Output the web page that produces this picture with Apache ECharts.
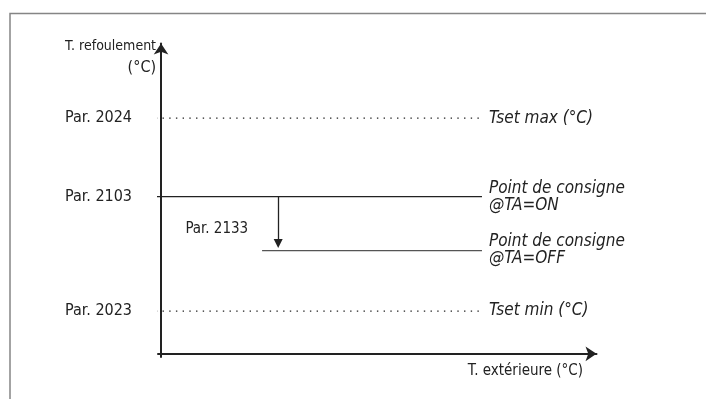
<!DOCTYPE html>
<html lang="fr">
<head>
    <meta charset="UTF-8">
    <title>Point de consigne</title>
    <style>
        html, body { margin: 0; padding: 0; background: #fff; }
    </style>
</head>
<body>
    <div id="main" style="width: 706px; height: 399px;"></div>
    <script src="https://cdn.jsdelivr.net/npm/echarts@6/dist/echarts.min.js"></script>
    <script>
        // niveaux (unites arbitraires du schema)
        var levelNames = ['Par. 2024', 'Par. 2103', 'Par. 2023'];
        var levelValues = [60, 40, 10.9];
        var rightLabels = ['Tset max (°C)', 'Point de consigne\n@TA=ON', 'Tset min (°C)'];
        var offValue = 26.3;
        var offLabel = 'Point de consigne\n@TA=OFF';
        var hystName = 'Par. 2133';
        var hystX = 26.9;
        // debut / fin des traits horizontaux (axe x)
        var dotStart = -1.2, onStart = -4.6, offStart = 23.2, lineEnd = 73.7;

        var font = '"DejaVu Sans", sans-serif';
        var narrow = 'condensed';   // font-stretch glisse dans la police canvas
        var ink = '#222';

        var myChart = echarts.init(document.getElementById('main'));

        var endLabel = function (text) {
            return {
                show: true,
                formatter: text,
                distance: 7,
                fontFamily: font,
                fontStyle: 'italic',
                fontWeight: narrow,
                fontSize: 17,
                lineHeight: 17,
                color: ink
            };
        };

        var dotted = { color: '#222', width: 1.2, type: [1.4, 5.3] };

        var option = {
            animation: false,
            graphic: [{
                type: 'rect',
                shape: { x: 10, y: 13.5, width: 760, height: 420 },
                style: { fill: 'none', stroke: '#858585', lineWidth: 1.5 },
                silent: true
            }],
            grid: { left: 158, right: 109.5, top: 43.5, bottom: 42 },
            xAxis: {
                type: 'value',
                min: -0.7,
                max: 100,
                name: 'T. extérieure (°C)',
                nameLocation: 'end',
                nameGap: -13.5,
                nameTextStyle: {
                    fontFamily: font, fontWeight: narrow, fontSize: 15, color: ink,
                    align: 'right', verticalAlign: 'top', padding: [10, 0, 0, 0]
                },
                axisLine: {
                    onZero: true,
                    symbol: ['none', 'arrow'],
                    symbolSize: [11, 11],
                    lineStyle: { color: ink, width: 2 }
                },
                axisTick: { show: false },
                axisLabel: { show: false },
                splitLine: { show: false }
            },
            yAxis: {
                type: 'value',
                min: -0.8,
                max: 79,
                name: '{a|T. refoulement}\n{b|(°C)}',
                nameLocation: 'end',
                nameGap: 8,
                nameTextStyle: {
                    color: ink,
                    align: 'right', verticalAlign: 'top', padding: [0, 5, 0, 0],
                    rich: {
                        a: { fontFamily: font, fontWeight: narrow, fontSize: 14, lineHeight: 21, color: ink },
                        b: { fontFamily: font, fontWeight: narrow, fontSize: 16, lineHeight: 23, color: ink }
                    }
                },
                axisLine: {
                    onZero: true,
                    symbol: ['none', 'arrow'],
                    symbolSize: [11, 11],
                    lineStyle: { color: ink, width: 2 }
                },
                axisTick: { show: false },
                axisLabel: {
                    customValues: levelValues,
                    formatter: function (v) {
                        return levelNames[levelValues.indexOf(v)] || '';
                    },
                    margin: 26,
                    fontFamily: font,
                    fontWeight: narrow,
                    fontSize: 16,
                    color: ink
                },
                splitLine: { show: false }
            },
            series: [
                {
                    type: 'line', symbol: 'none', clip: false,
                    data: [[dotStart, levelValues[0]], [lineEnd, levelValues[0]]],
                    lineStyle: dotted,
                    endLabel: endLabel(rightLabels[0])
                },
                {
                    type: 'line', symbol: 'none', clip: false,
                    data: [[onStart, levelValues[1]], [lineEnd, levelValues[1]]],
                    lineStyle: { color: ink, width: 1.3 },
                    endLabel: endLabel(rightLabels[1]),
                    markLine: {
                        silent: true,
                        symbol: ['none', 'triangle'],
                        symbolRotate: 180,
                        symbolSize: [9, 9],
                        label: { show: false },
                        lineStyle: { color: ink, width: 1.3, type: 'solid' },
                        data: [[
                            { coord: [hystX, levelValues[1]] },
                            { coord: [hystX, offValue + 1.8] }
                        ]]
                    }
                },
                {
                    type: 'line', symbol: 'none', clip: false,
                    data: [[offStart, offValue], [lineEnd, offValue]],
                    lineStyle: { color: '#555', width: 1.3 },
                    endLabel: endLabel(offLabel)
                },
                {
                    type: 'line', symbol: 'none', clip: false,
                    data: [[dotStart, levelValues[2]], [lineEnd, levelValues[2]]],
                    lineStyle: dotted,
                    endLabel: endLabel(rightLabels[2])
                },
                {
                    type: 'scatter',
                    symbolSize: 0,
                    itemStyle: { opacity: 1 },
                    data: [[hystX, (levelValues[1] + offValue) / 2 - 1.5]],
                    label: {
                        show: true,
                        formatter: hystName,
                        position: 'left',
                        distance: 30,
                        fontFamily: font,
                        fontWeight: narrow,
                        fontSize: 15,
                        color: ink
                    }
                }
            ]
        };
        myChart.setOption(option);
    </script>
</body>
</html>
